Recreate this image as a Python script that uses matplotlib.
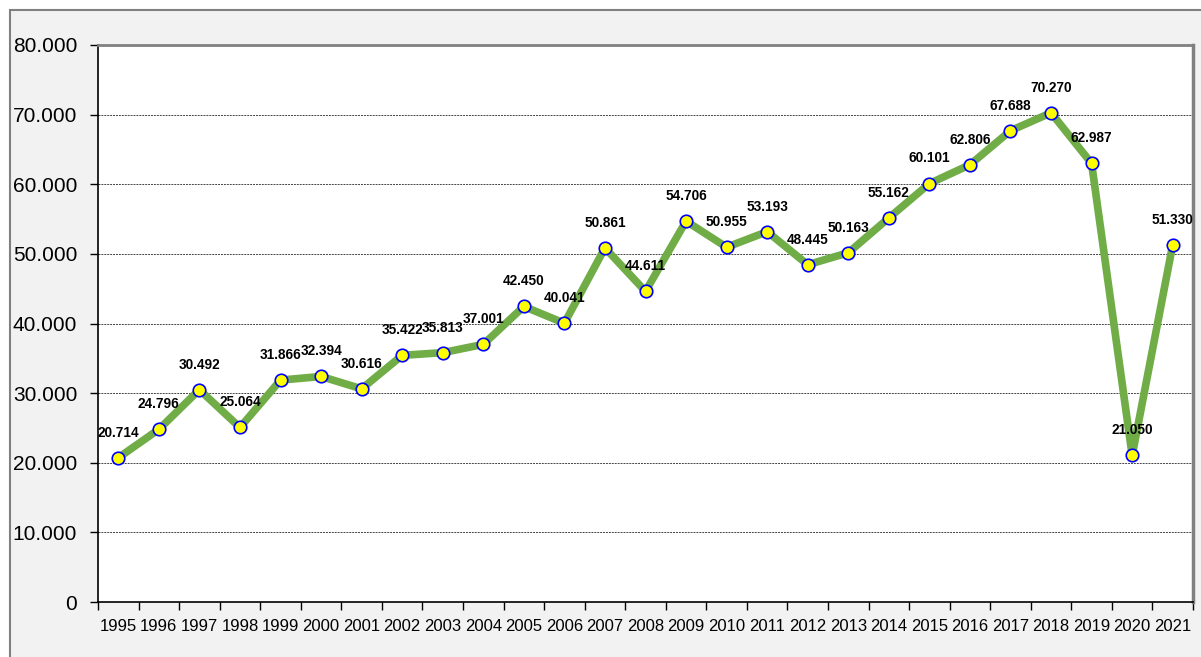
import matplotlib
matplotlib.use("Agg")
import matplotlib.pyplot as plt
from matplotlib.patches import Rectangle
from matplotlib.ticker import FixedLocator, FuncFormatter, NullFormatter

years = list(range(1995, 2022))
values = [20714, 24796, 30492, 25064, 31866, 32394, 30616, 35422, 35813, 37001,
          42450, 40041, 50861, 44611, 54706, 50955, 53193, 48445, 50163, 55162,
          60101, 62806, 67688, 70270, 62987, 21050, 51330]


def dotted(v):
    return f"{int(v):,}".replace(",", ".")


plt.rcParams["font.family"] = ["Liberation Sans", "DejaVu Sans"]

fig = plt.figure(figsize=(12.01, 6.57), dpi=100)
fig.patch.set_facecolor("white")
# outer chart-area frame
fig.patches.append(Rectangle((10 / 1201, -0.01), 1.0, 1 - 10 / 657 + 0.01,
                             transform=fig.transFigure, facecolor="#f2f2f2",
                             edgecolor="#808080", linewidth=1.5, zorder=-5))

ax = fig.add_axes([98 / 1201, 55 / 657, 1095 / 1201, 557 / 657])
ax.set_zorder(2)
ax.set_facecolor("white")

x = list(range(len(years)))
ax.plot(x, values, color="#70ad47", linewidth=5.5, solid_joinstyle="round", zorder=3)
ax.plot(x, values, linestyle="none", marker="o", markersize=9,
        markerfacecolor="#ffff00", markeredgecolor="#0000ff", markeredgewidth=1.2, zorder=4)

for xi, v in zip(x, values):
    ax.annotate(dotted(v), (xi, v), xytext=(0, 13), textcoords="offset points",
                ha="center", va="bottom", fontsize=9.8, fontweight="bold", zorder=5)

ax.set_xlim(-0.5, len(years) - 0.5)
ax.set_ylim(0, 80000)
ax.set_yticks(range(0, 80001, 10000))
ax.yaxis.set_major_formatter(FuncFormatter(lambda v, p: dotted(v)))
ax.tick_params(axis="y", labelsize=15, length=6, width=1, pad=9, direction="out")

ax.set_xticks(x)
ax.set_xticklabels([str(y) for y in years])
ax.xaxis.set_minor_locator(FixedLocator([i - 0.5 for i in range(len(years) + 1)]))
ax.xaxis.set_minor_formatter(NullFormatter())
ax.tick_params(axis="x", which="major", length=0, labelsize=12, pad=12)
ax.tick_params(axis="x", which="minor", length=6, width=1, direction="out")

for yv in range(10000, 80000, 10000):
    ax.axhline(yv, color="#444444", linewidth=0.7, linestyle=(0, (2, 1)), zorder=1)

ax.spines["left"].set_color("black")
ax.spines["bottom"].set_color("black")
ax.spines["left"].set_linewidth(1.2)
ax.spines["bottom"].set_linewidth(1.2)
ax.spines["top"].set_color("#808080")
ax.spines["top"].set_linewidth(2)
ax.spines["right"].set_color("#808080")
ax.spines["right"].set_linewidth(2.5)

fig.savefig("out.png", dpi=100)
